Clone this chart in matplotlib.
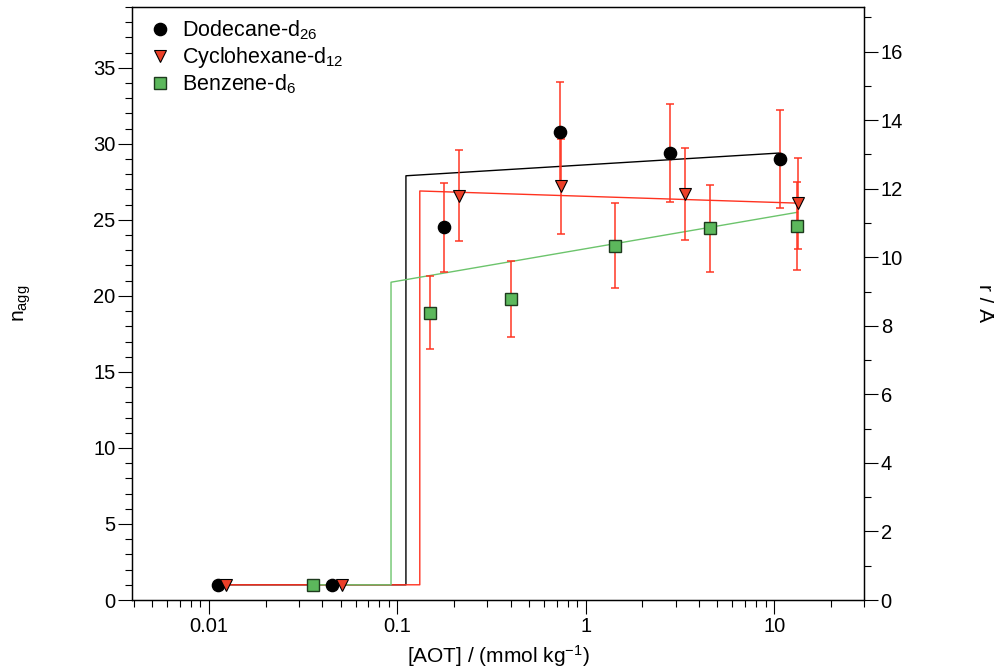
import numpy as np
import matplotlib
matplotlib.use("Agg")
import matplotlib.pyplot as plt
from matplotlib.ticker import LogLocator, MultipleLocator, NullFormatter, FuncFormatter

plt.rcParams['font.family'] = ['Liberation Sans', 'DejaVu Sans']
plt.rcParams['mathtext.default'] = 'regular'

# measured points: [AOT] in mmol/kg, aggregation number, error
dod_x = [0.0112, 0.0448, 0.177, 0.73, 2.79, 10.8]
dod_n = [1, 1, 24.5, 30.8, 29.4, 29.0]
dod_err = [0, 0, 2.9, 3.3, 3.2, 3.2]

cyc_x = [0.0123, 0.0506, 0.213, 0.736, 3.38, 13.4]
cyc_n = [1, 1, 26.6, 27.2, 26.7, 26.1]
cyc_err = [0, 0, 3.0, 3.1, 3.0, 3.0]

ben_x = [0.0356, 0.149, 0.40, 1.43, 4.56, 13.3]
ben_n = [1, 18.9, 19.8, 23.3, 24.45, 24.6]
ben_err = [0, 2.4, 2.5, 2.8, 2.85, 2.9]

# step-like model curves
dod_fit_x = [0.0112, 0.111, 0.111, 10.8]
dod_fit_n = [1, 1, 27.9, 29.4]
cyc_fit_x = [0.0123, 0.1315, 0.1315, 13.4]
cyc_fit_n = [1, 1, 26.9, 26.1]
ben_fit_x = [0.0356, 0.0925, 0.0925, 13.3]
ben_fit_n = [1, 1, 20.9, 25.5]

red = '#ff3220'
green_fill = '#5cb85c'
green_line = '#6cc46c'


def with_err(x, y, e):
    x, y, e = np.array(x), np.array(y), np.array(e)
    m = e > 0
    return x[m], y[m], e[m]


def main():
    fig = plt.figure(figsize=(9.95, 6.71), dpi=100)
    ax = fig.add_axes([132 / 995, 1 - 600 / 671, 732 / 995, 593 / 671])

    ax.plot(dod_fit_x, dod_fit_n, color='black', lw=1.0, zorder=2)
    ax.plot(cyc_fit_x, cyc_fit_n, color=red, lw=1.0, zorder=2)
    ax.plot(ben_fit_x, ben_fit_n, color=green_line, lw=1.0, zorder=2)

    for x, y, e in [(dod_x, dod_n, dod_err), (cyc_x, cyc_n, cyc_err), (ben_x, ben_n, ben_err)]:
        xe, ye, ee = with_err(x, y, e)
        ax.errorbar(xe, ye, yerr=ee, fmt='none', ecolor=red, elinewidth=1.2,
                    capsize=3.2, capthick=1.2, alpha=0.9, zorder=3)

    ax.plot(dod_x, dod_n, 'o', ms=8.8, mfc='black', mec='black', ls='none',
            zorder=4, label='Dodecane-d$_{26}$')
    ax.plot(cyc_x, cyc_n, 'v', ms=8, mfc='#ec4028', mec='black', mew=0.8, ls='none',
            zorder=4, label='Cyclohexane-d$_{12}$')
    ax.plot(ben_x, ben_n, 's', ms=8, mfc=green_fill, mec='#1e3a1e', mew=1.0, ls='none',
            zorder=4, label='Benzene-d$_6$')

    ax.set_xscale('log')
    ax.set_xlim(0.0039, 30)
    ax.set_ylim(0, 39)
    ax.xaxis.set_major_locator(LogLocator(base=10, numticks=10))
    ax.xaxis.set_minor_locator(LogLocator(base=10, subs=np.arange(2, 10), numticks=20))
    ax.xaxis.set_minor_formatter(NullFormatter())
    ax.xaxis.set_major_formatter(FuncFormatter(lambda v, p: '%g' % v))
    ax.yaxis.set_major_locator(MultipleLocator(5))
    ax.yaxis.set_minor_locator(MultipleLocator(1))

    ax.tick_params(which='major', direction='out', length=10, width=0.8, labelsize=14.5, pad=2)
    ax.tick_params(which='minor', direction='out', length=5, width=0.8)

    ax2 = ax.twinx()
    ax2.set_ylim(0, 17.3)
    ax2.yaxis.set_major_locator(MultipleLocator(2))
    ax2.yaxis.set_minor_locator(MultipleLocator(1))
    ax2.tick_params(which='major', direction='out', length=10, width=0.8, labelsize=14.5, pad=2)
    ax2.tick_params(which='minor', direction='out', length=5, width=0.8)

    for a in (ax, ax2):
        for s in a.spines.values():
            s.set_linewidth(0.9)

    ax.set_xlabel('[AOT] / (mmol kg$^{-1}$)', fontsize=15)
    ax.xaxis.set_label_coords(0.5, -0.072)
    ax.set_ylabel('n$_{agg}$', fontsize=15)
    ax.yaxis.set_label_coords(-0.135, 0.5)
    ax2.set_ylabel('r / Å', fontsize=15, rotation=-90, va='center')
    ax2.yaxis.set_label_coords(1.165, 0.5)

    ax.legend(loc='upper left', bbox_to_anchor=(0.025, 0.98), frameon=False,
              fontsize=15.5, handlelength=0.9, handletextpad=0.55, borderpad=0,
              borderaxespad=0, labelspacing=0.12, numpoints=1)

    fig.savefig('out.png', dpi=100)


if __name__ == "__main__":
    main()
